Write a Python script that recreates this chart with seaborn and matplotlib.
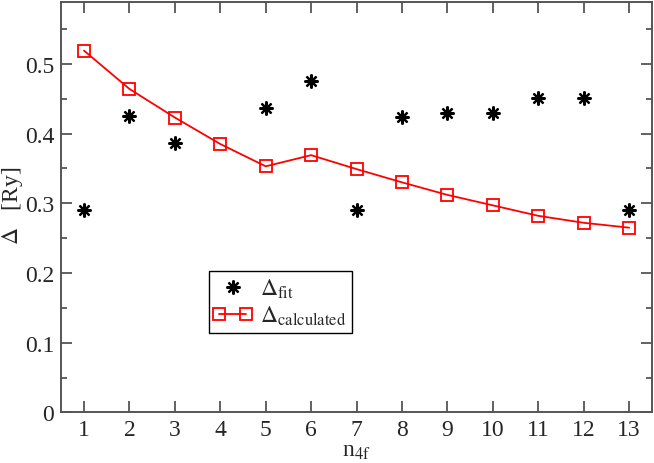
import numpy as np
import pandas as pd
import matplotlib
matplotlib.use("Agg")
import matplotlib.pyplot as plt
import seaborn as sns
from matplotlib.legend_handler import HandlerLine2D

# data
n_calc = [1, 2, 3, 4, 5, 6, 7, 8, 9, 10, 11, 12, 13]
delta_calc = [0.519, 0.464, 0.423, 0.385, 0.353, 0.369, 0.349, 0.330, 0.312, 0.297, 0.282, 0.272, 0.265]
n_fit = [1, 2, 3, 5, 6, 7, 8, 9, 10, 11, 12, 13]
delta_fit = [0.290, 0.425, 0.387, 0.437, 0.475, 0.290, 0.424, 0.430, 0.430, 0.451, 0.451, 0.290]

sns.set_style("ticks")
plt.rcParams['font.family'] = ['Liberation Serif', 'DejaVu Serif']
plt.rcParams['mathtext.fontset'] = 'stix'

df_calc = pd.DataFrame({'n': n_calc, 'delta': delta_calc})
df_fit = pd.DataFrame({'n': n_fit, 'delta': delta_fit})

fig = plt.figure(figsize=(6.54, 4.64), dpi=100)
ax = fig.add_axes([0.0937, 0.109, 0.903, 0.885])

sns.lineplot(data=df_fit, x='n', y='delta', ax=ax, linestyle='', marker=(8, 2, 0),
             markersize=10, markeredgewidth=1.6, color='black', markeredgecolor='black',
             label=r'$\Delta_{\mathrm{fit}}$')
sns.lineplot(data=df_calc, x='n', y='delta', ax=ax, color='red', linewidth=1.3,
             marker='s', markersize=9, markerfacecolor='none', markeredgecolor='red',
             markeredgewidth=1.3, label=r'$\Delta_{\mathrm{calculated}}$')

ax.set_xlim(0.5, 13.5)
ax.set_ylim(0, 0.589)
ax.set_xticks(n_calc)
ax.set_yticks([0, 0.1, 0.2, 0.3, 0.4, 0.5])
ax.set_yticklabels(['0', '0.1', '0.2', '0.3', '0.4', '0.5'])
ax.set_yticks(np.arange(0.05, 0.59, 0.1), minor=True)
ax.tick_params(which='both', direction='in', top=True, right=True, color='#555555',
               width=1.3, labelsize=17, pad=5)
ax.tick_params(which='major', length=8)
ax.tick_params(which='minor', length=4.5)
for s in ax.spines.values():
    s.set_color('#555555')
    s.set_linewidth(1.4)

ax.set_xlabel(r'n$_{\mathrm{4f}}$', fontsize=17, labelpad=0)
ax.set_ylabel(r'$\Delta$   [Ry]', fontsize=17, labelpad=2)
ax.yaxis.set_label_coords(-0.062, 0.505)

handles, labels = ax.get_legend_handles_labels()
leg = ax.legend(handles, labels, loc='lower left', bbox_to_anchor=(0.25, 0.193),
                borderaxespad=0, fontsize=17, frameon=True, fancybox=False,
                edgecolor='black', framealpha=1, numpoints=1, handlelength=1.5,
                handletextpad=0.4, labelspacing=0.15, borderpad=0.25,
                handler_map={handles[1]: HandlerLine2D(numpoints=2, marker_pad=0.18)})
leg.get_frame().set_linewidth(1.0)

fig.savefig('out.png', dpi=100)
